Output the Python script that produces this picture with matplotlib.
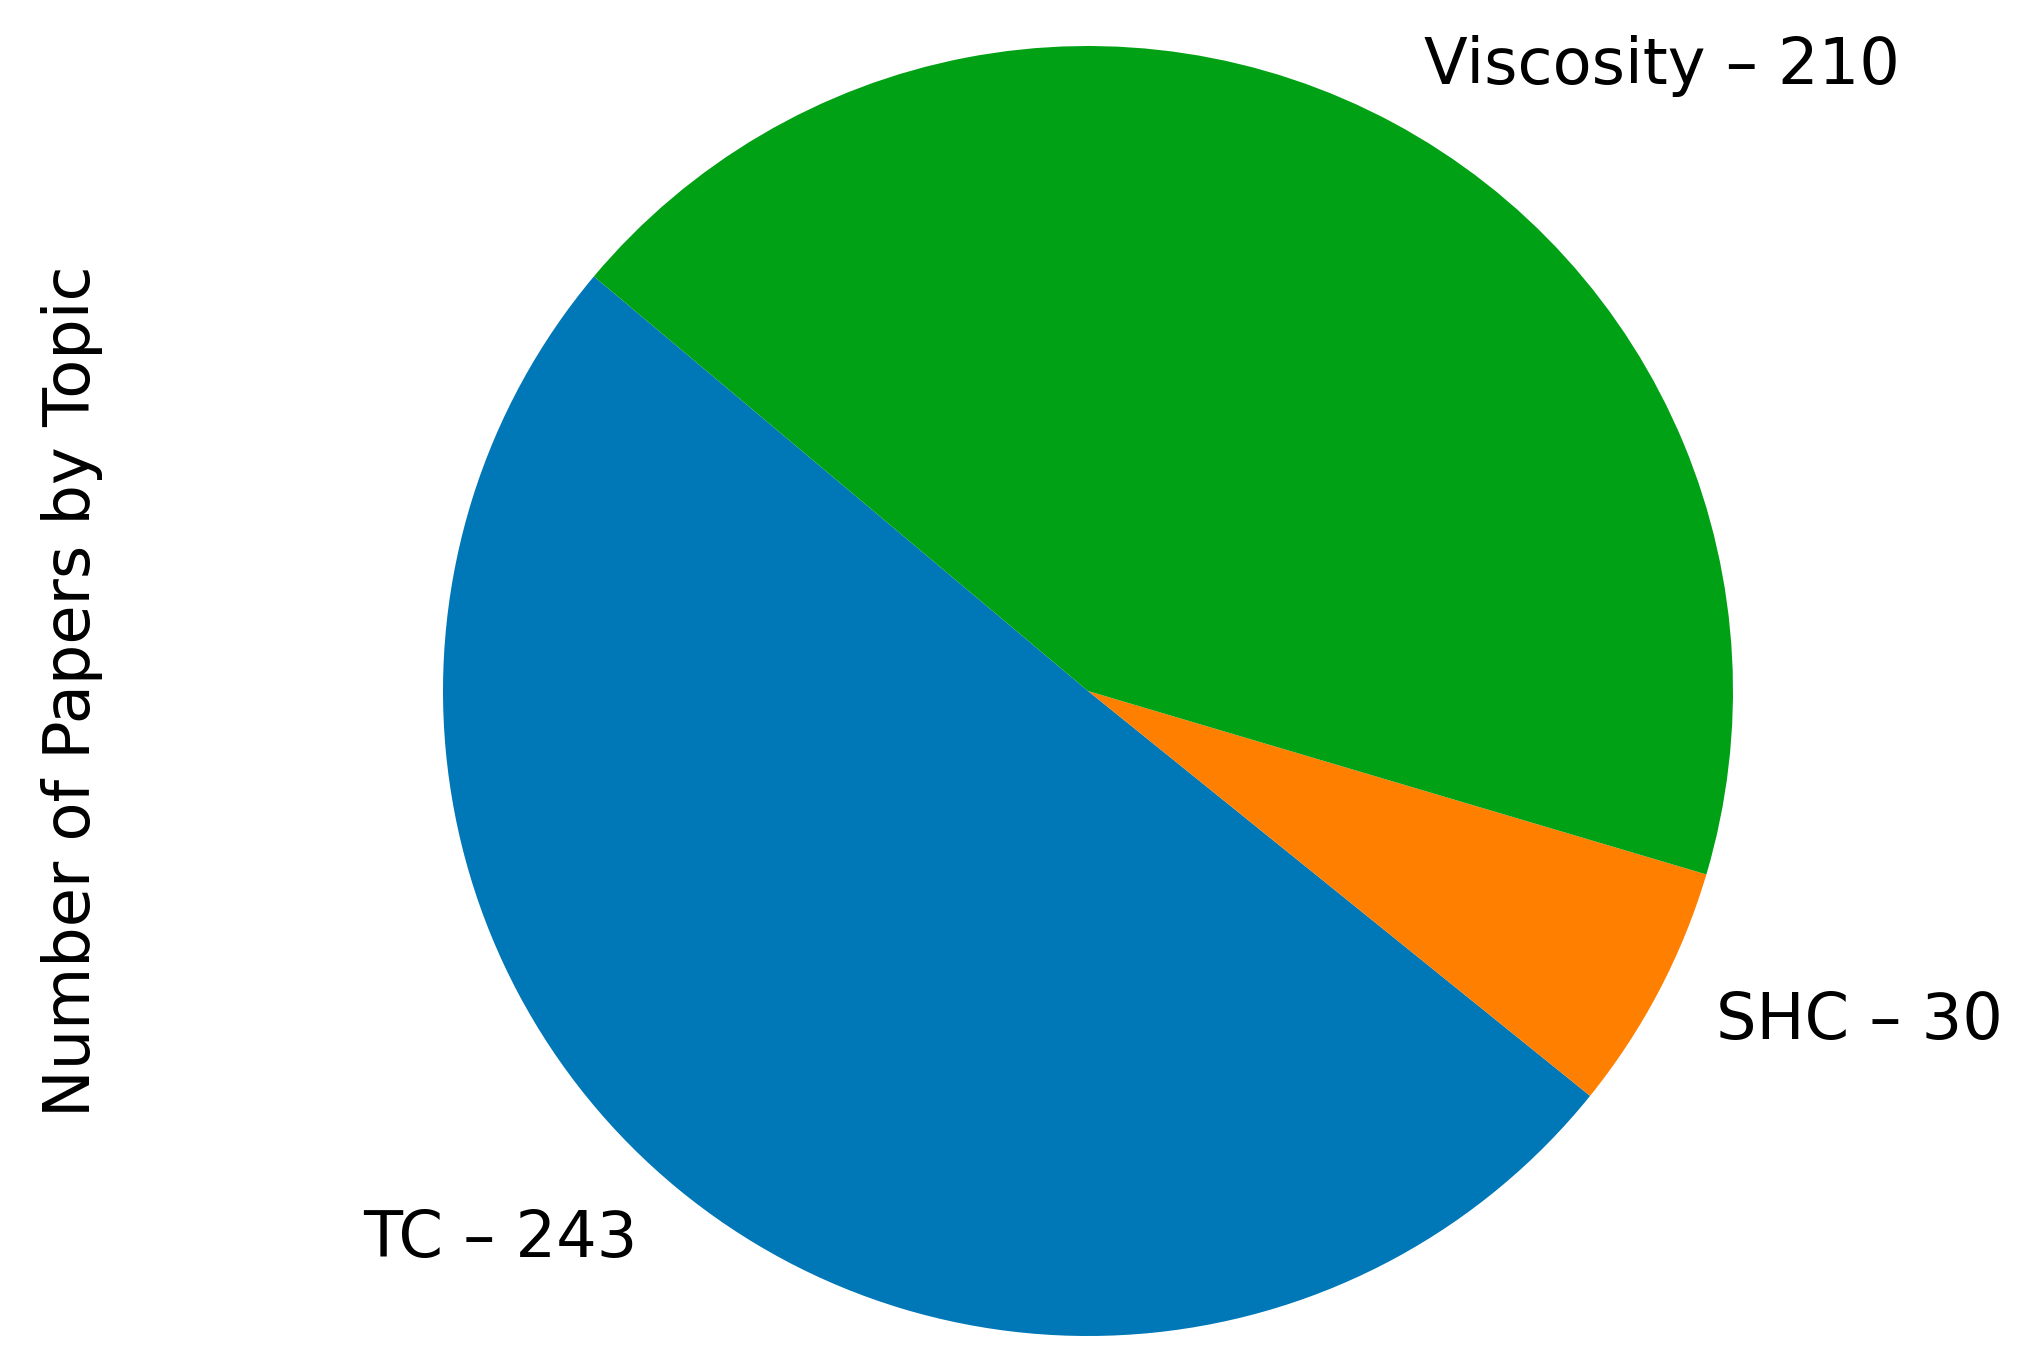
import matplotlib
matplotlib.use("Agg")
import matplotlib.pyplot as plt

topics = ["TC", "SHC", "Viscosity"]
counts = [243, 30, 210]
colors = ["#0077b6", "#ff7f00", "#00a114"]
labels = [f"{t} \u2013 {c}" for t, c in zip(topics, counts)]

W, H = 2019, 1364
dpi = 100
fig = plt.figure(figsize=(W / dpi, H / dpi), dpi=dpi)

cx, cy, R = 1088, 1364 - 691, 645
S = 1300
ax = fig.add_axes([(cx - S / 2) / W, (cy - S / 2) / H, S / W, S / H])
ax.pie(counts, labels=labels, colors=colors, startangle=140,
       textprops={"fontsize": 46, "family": "DejaVu Sans"})
lim = S / (2 * R)
ax.set_xlim(-lim, lim)
ax.set_ylim(-lim, lim)
ax.set_axis_off()

fig.text(72 / W, cy / H, "Number of Papers by Topic", rotation=90,
         ha="center", va="center", fontsize=46, family="DejaVu Sans")

fig.savefig("out.png", dpi=dpi)
